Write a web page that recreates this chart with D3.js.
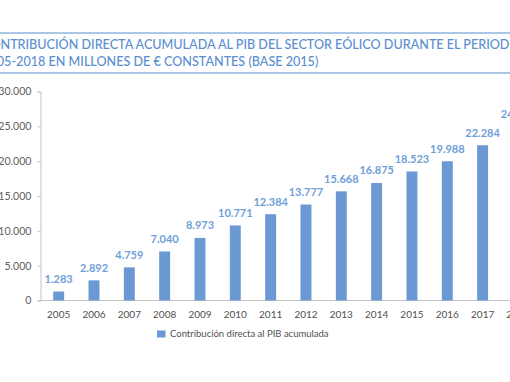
<!DOCTYPE html>
<html>
<head>
<meta charset="utf-8">
<script src="https://cdn.jsdelivr.net/npm/d3@7"></script>
<style>
  html, body { margin: 0; padding: 0; background: #fff; }
  svg { display: block; font-family: Lato, "Open Sans", sans-serif; }
</style>
</head>
<body>
<div id="chart"></div>
<script>
// chart data
const years = ['2005', '2006', '2007', '2008', '2009', '2010', '2011', '2012', '2013', '2014', '2015', '2016', '2017', '2018'];
const pibAcumulado = [1283, 2892, 4759, 7040, 8973, 10771, 12384, 13777, 15668, 16875, 18523, 19988, 22284, 24906];
const yTicks = [0, 5000, 10000, 15000, 20000, 25000, 30000];
const titleLines = [
    'CONTRIBUCIÓN DIRECTA ACUMULADA AL PIB DEL SECTOR EÓLICO DURANTE EL PERIODO',
    '2005-2018 EN MILLONES DE € CONSTANTES (BASE 2015)'
];
const legendLabel = 'Contribución directa al PIB acumulada';

const W = 510, H = 382;
const margin = {top: 91.5, left: 40.5, bottom: 300.5};
const blue = '#6b99d3';

const es = d3.formatLocale({decimal: ',', thousands: '.', grouping: [3], currency: ['', ' €']});
const fmt = es.format(',d');

const svg = d3.select('#chart')
    .append('svg')
    .attr('width', W)
    .attr('height', H);

// title with rules above and below
svg.append('line')
    .attr('x1', 0).attr('x2', W)
    .attr('y1', 33).attr('y2', 33)
    .attr('stroke', '#8fb4e0').attr('stroke-width', 1.5);
svg.append('line')
    .attr('x1', 0).attr('x2', W)
    .attr('y1', 73).attr('y2', 73)
    .attr('stroke', '#8fb4e0').attr('stroke-width', 1.5);

const title = svg.append('text')
    .attr('fill', '#5b8ecf')
    .style('font-size', '12.6px')
    .style('font-weight', 500);
title.selectAll('tspan')
    .data(titleLines)
    .enter()
    .append('tspan')
    .attr('y', (d, i) => 49 + i * 17)
    .text(d => d);
// original is cropped on the left: hide the first two letters
const firstLine = title.select('tspan').node();
const offset = firstLine.getSubStringLength(0, 2);
title.selectAll('tspan').attr('x', -offset + 0.5);

// scales
const x = d3.scaleBand()
    .domain(years)
    .range([41, 41 + 35.33 * years.length])
    .paddingInner(0.69)
    .paddingOuter(0.345);

const y = d3.scaleLinear()
    .domain([0, 30000])
    .range([margin.bottom, margin.top]);

// y axis
const yAxis = svg.append('g')
    .attr('transform', `translate(${margin.left},0)`)
    .call(d3.axisLeft(y).tickValues(yTicks).tickFormat(fmt).tickSize(3).tickPadding(6));
yAxis.select('.domain').attr('stroke', '#c4c4c4');
yAxis.selectAll('.tick line').attr('stroke', '#c4c4c4');
yAxis.selectAll('text')
    .attr('fill', '#5f5f5f')
    .style('font-size', '10.6px')
    .style('font-family', 'Lato, sans-serif');

// x axis
const xAxis = svg.append('g')
    .attr('transform', `translate(0,${margin.bottom})`)
    .call(d3.axisBottom(x).tickSize(0).tickPadding(10));
xAxis.select('.domain')
    .attr('stroke', '#c4c4c4')
    .attr('d', `M${margin.left},0H${W}`);
xAxis.selectAll('text')
    .attr('fill', '#505050')
    .style('font-size', '10px')
    .style('font-family', 'Lato, sans-serif');

// bars
const data = years.map((yr, i) => ({year: yr, value: pibAcumulado[i]}));

svg.selectAll('rect.bar')
    .data(data)
    .enter()
    .append('rect')
    .attr('class', 'bar')
    .attr('x', d => x(d.year))
    .attr('y', d => y(d.value))
    .attr('width', x.bandwidth())
    .attr('height', d => y(0) - y(d.value))
    .attr('fill', blue);

svg.selectAll('text.value')
    .data(data)
    .enter()
    .append('text')
    .attr('class', 'value')
    .attr('x', d => x(d.year) + x.bandwidth() / 2)
    .attr('y', d => y(d.value) - 8.5)
    .attr('text-anchor', 'middle')
    .attr('fill', '#6f9fd8')
    .style('font-size', '11px')
    .style('font-weight', 700)
    .text(d => fmt(d.value));

// legend
const legend = svg.append('g').attr('transform', 'translate(157,330.5)');
legend.append('rect')
    .attr('width', 8.5)
    .attr('height', 7)
    .attr('fill', blue);
legend.append('text')
    .attr('x', 13)
    .attr('y', 6.8)
    .attr('fill', '#505050')
    .style('font-size', '9.5px')
    .text(legendLabel);
</script>
</body>
</html>
